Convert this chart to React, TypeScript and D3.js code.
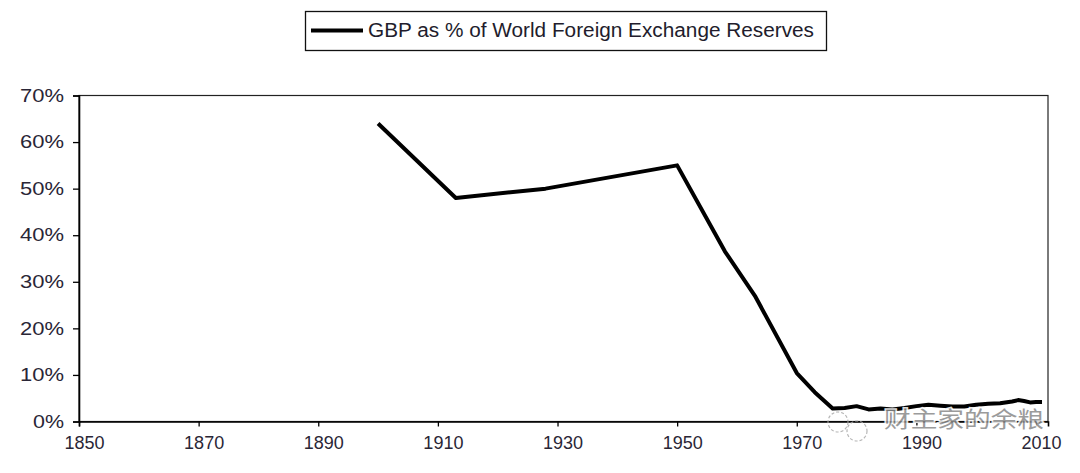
import React, { useEffect, useRef } from 'react';
import * as d3 from 'd3';

// GBP share of world FX reserves
const years = [1900, 1913, 1928, 1950, 1958, 1963, 1970, 1973, 1976, 1978, 1980, 1982, 1984, 1986, 1988, 1990, 1992, 1994, 1996, 1998, 2000, 2002, 2004, 2006, 2007, 2008, 2009, 2010, 2011];
const shares = [64, 48, 50, 55, 36.5, 27, 10.4, 6.3, 2.8, 2.9, 3.3, 2.6, 2.8, 2.6, 2.9, 3.3, 3.6, 3.4, 3.2, 3.2, 3.6, 3.8, 3.9, 4.3, 4.6, 4.4, 4.1, 4.2, 4.2];
const yearTicks = [1850, 1870, 1890, 1910, 1930, 1950, 1970, 1990, 2010];
const pctTicks = [0, 10, 20, 30, 40, 50, 60, 70];
const legendLabel = 'GBP as % of World Foreign Exchange Reserves';
const watermark = '财主家的余粮';

const App: React.FC = () => {
  const svgRef = useRef<SVGSVGElement>(null);

  useEffect(() => {
    if (!svgRef.current) return;
    const svg = d3.select(svgRef.current);
    svg.selectAll('*').remove();

    const W = 1080;
    const H = 473;
    const margin = { top: 95.5, right: 32, bottom: 51.5, left: 79 };
    const innerW = W - margin.left - margin.right;
    const innerH = H - margin.top - margin.bottom;
    const font = 'Liberation Sans, Arial, sans-serif';

    const x = d3.scaleLinear().domain([1850, 2012]).range([0, innerW]);
    const y = d3.scaleLinear().domain([0, 70]).range([innerH, 0]);

    svg.append('rect').attr('width', W).attr('height', H).attr('fill', '#fff');

    // Legend box
    const lg = svg.append('g');
    lg.append('rect')
      .attr('x', 305.5).attr('y', 11.5).attr('width', 521).attr('height', 39)
      .attr('fill', '#fff').attr('stroke', '#111').attr('stroke-width', 1.3);
    lg.append('line')
      .attr('x1', 311).attr('x2', 363).attr('y1', 30.5).attr('y2', 30.5)
      .attr('stroke', '#000').attr('stroke-width', 4);
    lg.append('text')
      .attr('x', 368).attr('y', 37)
      .attr('font-family', font).attr('font-size', 20).attr('fill', '#221c2c')
      .attr('textLength', 446).attr('lengthAdjust', 'spacingAndGlyphs')
      .text(legendLabel);

    const g = svg.append('g').attr('transform', `translate(${margin.left},${margin.top})`);

    // Plot frame (top/right)
    g.append('rect')
      .attr('x', 0).attr('y', 0).attr('width', innerW).attr('height', innerH)
      .attr('fill', 'none').attr('stroke', '#222').attr('stroke-width', 1.2);

    // Y axis
    const yAxis = g.append('g')
      .call(d3.axisLeft(y).tickValues(pctTicks).tickSize(6).tickPadding(9).tickFormat(d => `${d}%`));
    yAxis.select('.domain').attr('stroke', '#000').attr('stroke-width', 1.6);
    yAxis.selectAll('.tick line').attr('stroke', '#000').attr('stroke-width', 1.3);
    yAxis.selectAll<SVGTextElement, number>('text')
      .attr('font-family', font).attr('font-size', 18).attr('fill', '#2a2636')
      .attr('textLength', d => (d === 0 ? 31 : 44))
      .attr('lengthAdjust', 'spacingAndGlyphs');

    // X axis
    const xAxis = g.append('g')
      .attr('transform', `translate(0,${innerH})`)
      .call(d3.axisBottom(x).tickValues(yearTicks).tickSize(5).tickPadding(10).tickFormat(d3.format('d')));
    xAxis.select('.domain').attr('stroke', '#000').attr('stroke-width', 1.6);
    xAxis.selectAll('.tick line').attr('stroke', '#000').attr('stroke-width', 1.3);
    xAxis.selectAll('text')
      .attr('font-family', font).attr('font-size', 18).attr('fill', '#2a2636')
      .attr('dx', 5);

    // Series line
    const pts = years.map((yr, i) => [yr, shares[i]] as [number, number]);
    const line = d3.line<[number, number]>()
      .x(d => x(d[0]))
      .y(d => y(d[1]));
    g.append('path')
      .datum(pts)
      .attr('d', line)
      .attr('fill', 'none')
      .attr('stroke', '#000')
      .attr('stroke-width', 4)
      .attr('stroke-linejoin', 'round');

    // Watermark overlay
    const wm = svg.append('g').attr('opacity', 0.85);
    wm.append('circle').attr('cx', 838).attr('cy', 422).attr('r', 10)
      .attr('fill', 'none').attr('stroke', '#aaa').attr('stroke-width', 1.2).attr('stroke-dasharray', '3,2');
    wm.append('circle').attr('cx', 857).attr('cy', 431).attr('r', 10)
      .attr('fill', 'none').attr('stroke', '#aaa').attr('stroke-width', 1.2).attr('stroke-dasharray', '3,2');
    wm.append('text')
      .attr('x', 884).attr('y', 427)
      .attr('font-family', 'Noto Sans CJK SC, sans-serif').attr('font-size', 22)
      .attr('fill', '#8a8a8a').attr('stroke', '#fff').attr('stroke-width', 3).attr('paint-order', 'stroke')
      .attr('textLength', 160).attr('lengthAdjust', 'spacingAndGlyphs')
      .text(watermark);
  }, []);

  return (
    <div style={{ position: 'fixed', left: 0, top: 0, width: 1080, height: 473, background: '#fff' }}>
      <svg ref={svgRef} width={1080} height={473} style={{ display: 'block' }} />
    </div>
  );
};

export default App;
